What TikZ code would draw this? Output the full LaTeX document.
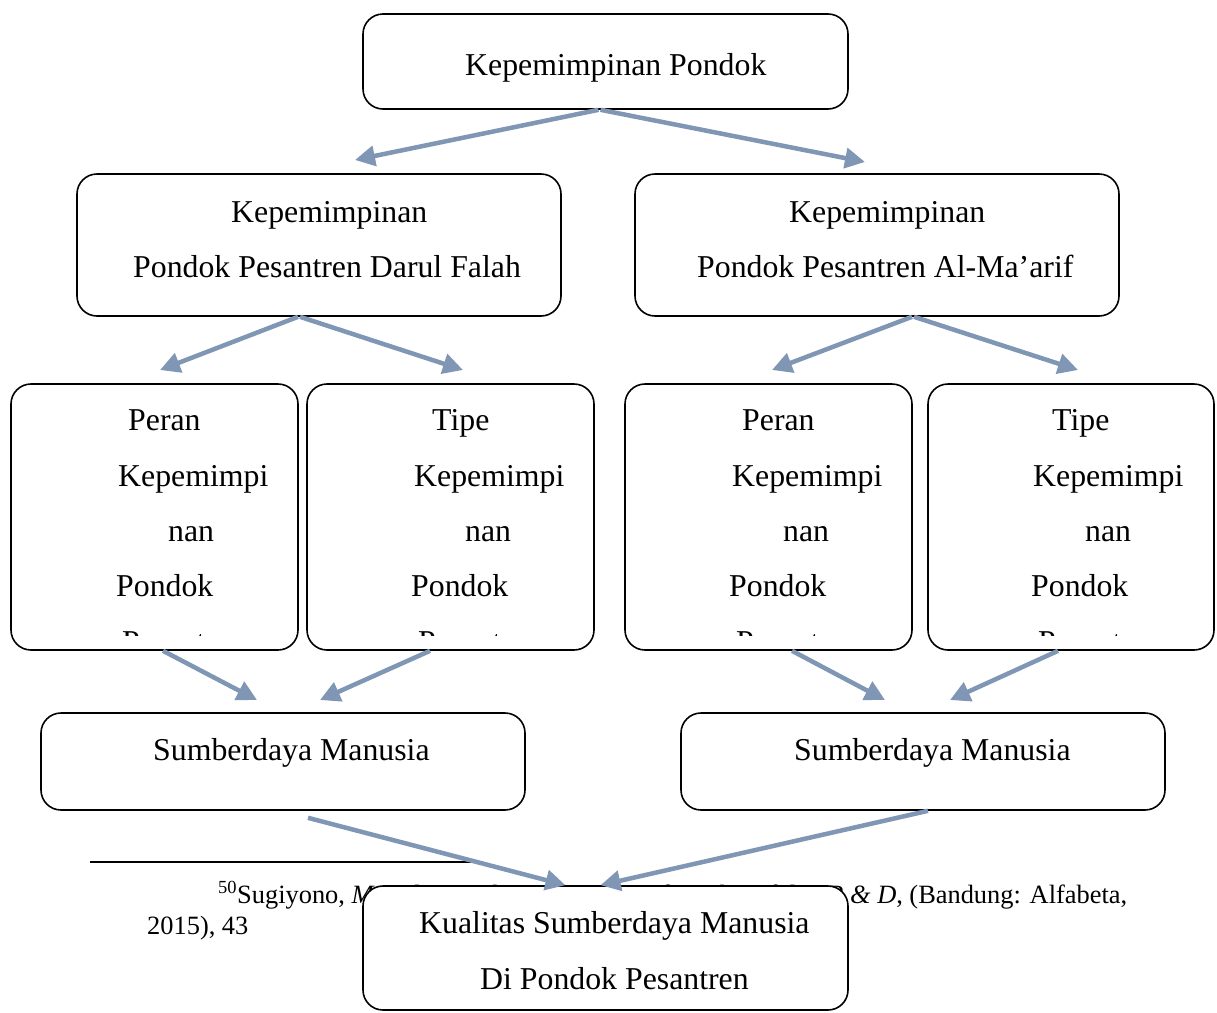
\documentclass[tikz,border=0pt]{standalone}
\usepackage{fontspec}
\setmainfont{Liberation Serif}
\usetikzlibrary{arrows.meta}
\definecolor{arrowc}{RGB}{128,150,181}
\newcommand\dgbig{\fontsize{31.8}{38}\selectfont}
\newcommand\dgfn{\fontsize{26.4}{30}\selectfont}
\tikzset{
  box/.style={draw=black, line width=1.6pt, rounded corners=20pt, fill=white, inner sep=0pt},
  lbl/.style={anchor=base west, inner sep=0pt, font=\dgbig},
  fn/.style={anchor=base west, inner sep=0pt, font=\dgfn},
  arr/.style={draw=arrowc, line width=4.5pt, -{Triangle[length=20pt,width=20pt]}},
}
\begin{document}
\begin{tikzpicture}[x=1pt,y=-1pt]
\useasboundingbox (0,0) rectangle (1217,1012);
\fill[white] (0,0) rectangle (1217,1012);

% footnote (lies underneath the diagram)
\coordinate (fnl) at (90,862);
\coordinate (fnr) at (472,862);
\draw[line width=1.5pt] (fnl) -- (fnr);
\node[fn] (fn1) at (218,903) {\hbox to 909pt{\textsuperscript{50}Sugiyono, \textit{Metode Penelitian Kuantitatif Kualitatif dan R \& D}, (Bandung: Alfabeta,}};
\node[fn] (fn2) at (147,934) {2015), 43};

% boxes
\node[box, minimum width=485pt, minimum height=95pt] (top) at (605.5,61.5) {};
\node[box, minimum width=484pt, minimum height=142pt] (b2L) at (319,245) {};
\node[box, minimum width=484pt, minimum height=142pt] (b2R) at (877,245) {};
\node[box, minimum width=287pt, minimum height=266pt] (bA) at (154.5,517) {};
\node[box, minimum width=287pt, minimum height=266pt] (bB) at (450.5,517) {};
\node[box, minimum width=287pt, minimum height=266pt] (bC) at (768.5,517) {};
\node[box, minimum width=286pt, minimum height=266pt] (bD) at (1071,517) {};
\node[box, minimum width=484pt, minimum height=97pt] (sdmL) at (283,761.5) {};
\node[box, minimum width=484pt, minimum height=97pt] (sdmR) at (923,761.5) {};
\node[box, minimum width=485pt, minimum height=124pt] (bot) at (605.5,948) {};

% texts
\node[lbl] (ttop) at (465,75) {Kepemimpinan Pondok};
\node[lbl] (t2La) at (231,222) {Kepemimpinan};
\node[lbl] (t2Lb) at (133,277) {Pondok Pesantren Darul Falah};
\node[lbl] (t2Ra) at (789,222) {Kepemimpinan};
\node[lbl] (t2Rb) at (697,277) {Pondok Pesantren Al-Ma’arif};

\node[lbl] (tA1) at (128,430) {Peran};
\node[lbl] (tA2) at (118,486) {Kepemimpi};
\node[lbl] (tA3) at (168,541) {nan};
\node[lbl] (tA4) at (116,596) {Pondok};
\node[lbl] (tB1) at (432,430) {Tipe};
\node[lbl] (tB2) at (414,486) {Kepemimpi};
\node[lbl] (tB3) at (465,541) {nan};
\node[lbl] (tB4) at (411,596) {Pondok};
\node[lbl] (tC1) at (742,430) {Peran};
\node[lbl] (tC2) at (732,486) {Kepemimpi};
\node[lbl] (tC3) at (783,541) {nan};
\node[lbl] (tC4) at (729,596) {Pondok};
\node[lbl] (tD1) at (1052,430) {Tipe};
\node[lbl] (tD2) at (1033,486) {Kepemimpi};
\node[lbl] (tD3) at (1085,541) {nan};
\node[lbl] (tD4) at (1031,596) {Pondok};
\begin{scope}
  \clip (11,384) rectangle (1214,635.5);
  \node[lbl] (tA5) at (122,652) {Pesantren};
  \node[lbl] (tB5) at (418,652) {Pesantren};
  \node[lbl] (tC5) at (736,652) {Pesantren};
  \node[lbl] (tD5) at (1038,652) {Pesantren};
\end{scope}

\node[lbl] (tsL) at (153,760) {Sumberdaya Manusia};
\node[lbl] (tsR) at (794,760) {Sumberdaya Manusia};
\node[lbl] (tbot1) at (419,933) {Kualitas Sumberdaya Manusia};
\node[lbl] (tbot2) at (480,989) {Di Pondok Pesantren};

% arrow end points
\coordinate (e1) at (355,160);
\coordinate (e2) at (865,162);
\coordinate (e3) at (160,370);
\coordinate (e4) at (463,370);
\coordinate (e5) at (772,370);
\coordinate (e6) at (1078,370);
\coordinate (e7) at (257,700);
\coordinate (e8) at (320,700);
\coordinate (e9) at (885,700);
\coordinate (e10) at (950,700);

\draw[arr] ([xshift=-7pt]top.south) -- (e1);
\draw[arr] ([xshift=-5pt]top.south) -- (e2);
\draw[arr] ([xshift=-21pt]b2L.south) -- (e3);
\draw[arr] ([xshift=-19pt]b2L.south) -- (e4);
\draw[arr] ([xshift=35pt]b2R.south) -- (e5);
\draw[arr] ([xshift=37pt]b2R.south) -- (e6);
\draw[arr] ([xshift=8.5pt]bA.south) -- (e7);
\draw[arr] ([xshift=-20.5pt]bB.south) -- (e8);
\draw[arr] ([xshift=23.5pt]bC.south) -- (e9);
\draw[arr] ([xshift=-13pt]bD.south) -- (e10);
\draw[arr] ([xshift=25pt,yshift=-7pt]sdmL.south) -- ([xshift=-40pt]bot.north);
\draw[arr] ([xshift=5pt]sdmR.south) -- ([xshift=-5pt]bot.north);
\end{tikzpicture}
\end{document}
